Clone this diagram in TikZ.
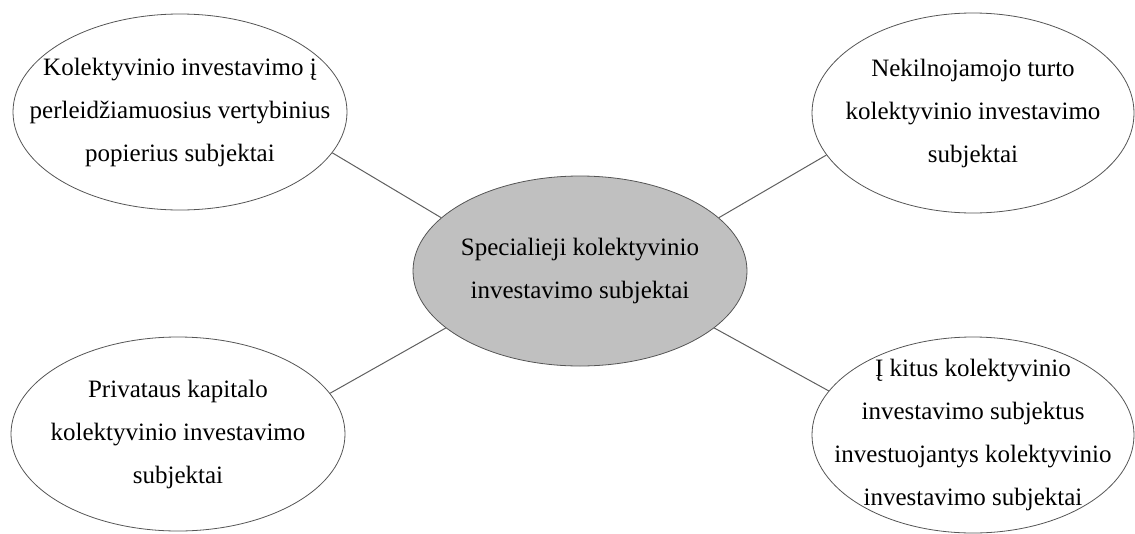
\documentclass[tikz,border=0pt]{standalone}
\usepackage{fontspec}
\setmainfont{Liberation Serif}
\usetikzlibrary{shapes.geometric}

\definecolor{bubblefill}{RGB}{192,192,192}
\definecolor{bubbleline}{RGB}{85,85,85}
\definecolor{linkline}{RGB}{95,95,95}

\begin{document}
\begin{tikzpicture}[x=1pt,y=-1pt]

      \useasboundingbox (0,0) rectangle (1135,533);

      \begin{scope}[every node/.style={ellipse,draw=bubbleline,fill=white,line width=0.8pt,
          align=center,font=\fontsize{25}{43}\selectfont,inner xsep=-40pt,inner ysep=-30pt}]
        \node[minimum width=334pt,minimum height=196pt] (tl) at (180,112)
          {Kolektyvinio investavimo į\\perleidžiamuosius vertybinius\\popierius subjektai};
        \node[minimum width=322pt,minimum height=200pt] (tr) at (973,113)
          {Nekilnojamojo turto\\kolektyvinio investavimo\\subjektai};
        \node[minimum width=334pt,minimum height=194pt] (bl) at (178,434)
          {Privataus kapitalo\\kolektyvinio investavimo\\subjektai};
        \node[minimum width=322pt,minimum height=196pt] (br) at (973,435)
          {Į kitus kolektyvinio\\investavimo subjektus\\investuojantys kolektyvinio\\investavimo subjektai};
        \node[fill=bubblefill,minimum width=334pt,minimum height=190pt] (c) at (580,271)
          {Specialieji kolektyvinio\\investavimo subjektai};
      \end{scope}

      \begin{scope}[every edge/.style={draw=linkline,line width=1pt}]
        \path (tl.-15.7)  edge (c.159);
        \path (tr.196.9)  edge (c.21.5);
        \path (bl.15.6)   edge (c.203.9);
        \path (br.163.3)  edge (c.-23.3);
      \end{scope}

    \end{tikzpicture}
\end{document}
